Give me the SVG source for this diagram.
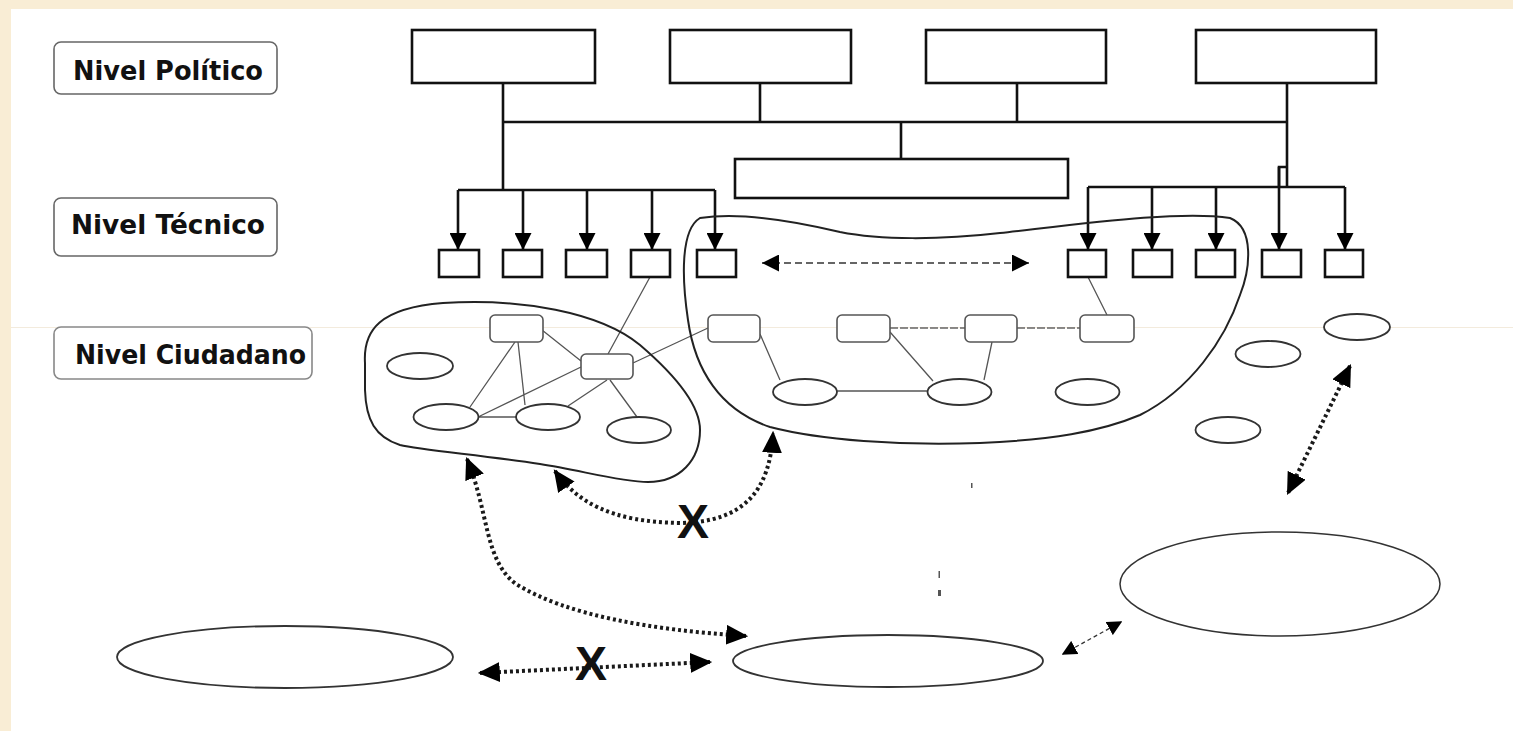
<svg xmlns="http://www.w3.org/2000/svg" width="1513" height="731" viewBox="0 0 1513 731">
<defs>
<style>
.lbl{fill:#fff;stroke:#666;stroke-width:1.6}
.lbltxt{font-family:"DejaVu Sans","Liberation Sans",sans-serif;font-weight:bold;font-size:26px;fill:#111}
.box{fill:#fff;stroke:#111;stroke-width:2.6}
.tree{fill:none;stroke:#111;stroke-width:2.6}
.cn{fill:#fff;stroke:#555;stroke-width:1.6}
.el{fill:#fff;stroke:#333;stroke-width:1.8}
.thin{fill:none;stroke:#555;stroke-width:1.3}
.thind{fill:none;stroke:#666;stroke-width:1.3;stroke-dasharray:8 2}
.blob{fill:none;stroke:#222;stroke-width:2}
.dot{fill:none;stroke:#1a1a1a;stroke-width:4;stroke-dasharray:3 3}
.xt{font-family:"Liberation Sans",Arial,sans-serif;font-weight:bold;font-size:48px;fill:#111}
</style>
<marker id="ah" viewBox="0 0 10 10" refX="10" refY="5" markerWidth="17" markerHeight="17" markerUnits="userSpaceOnUse" orient="auto-start-reverse"><path d="M0,0 L10,5 L0,10 z" fill="#000"/></marker>
<marker id="ahb" viewBox="0 0 10 10" refX="9" refY="5" markerWidth="22" markerHeight="20" markerUnits="userSpaceOnUse" orient="auto-start-reverse" preserveAspectRatio="none"><path d="M0,0 L10,5 L0,10 z" fill="#000"/></marker>
<marker id="ahs" viewBox="0 0 10 10" refX="9" refY="5" markerWidth="15" markerHeight="15" markerUnits="userSpaceOnUse" orient="auto-start-reverse"><path d="M0,0 L10,5 L0,10 z" fill="#000"/></marker>
</defs>
<rect x="0" y="0" width="1513" height="731" fill="#F9EDD5"/>
<rect x="11" y="9" width="1502" height="722" fill="#fff"/>
<line x1="11" y1="327.5" x2="1513" y2="327.5" stroke="#F3EBDD" stroke-width="1"/>

<g id="label-politico"><rect class="lbl" x="54" y="42" width="223" height="52" rx="7"/><text class="lbltxt" x="73" y="80" textLength="190" lengthAdjust="spacingAndGlyphs">Nivel Político</text></g>
<g id="label-tecnico"><rect class="lbl" x="54" y="198" width="223" height="58" rx="7"/><text class="lbltxt" x="71" y="234" textLength="194" lengthAdjust="spacingAndGlyphs">Nivel Técnico</text></g>
<g id="label-ciudadano"><rect class="lbl" x="54" y="327" width="258" height="52" rx="7" style="stroke:#888"/><text class="lbltxt" x="75" y="364" textLength="231" lengthAdjust="spacingAndGlyphs">Nivel Ciudadano</text></g>

<g id="connectors">
<path class="tree" d="M503,83 V190 M760,83 V122 M1017,83 V122 M1287,83 V187 M503,122 H1287 M901,122 V159"/>
<path class="tree" d="M458,190 H715 M1088,187 H1345 M1287,167 H1279 V187"/>
<line class="tree" x1="458" y1="190" x2="458" y2="250" marker-end="url(#ah)"/>
<line class="tree" x1="523" y1="190" x2="523" y2="250" marker-end="url(#ah)"/>
<line class="tree" x1="587" y1="190" x2="587" y2="250" marker-end="url(#ah)"/>
<line class="tree" x1="652" y1="190" x2="652" y2="250" marker-end="url(#ah)"/>
<line class="tree" x1="715" y1="190" x2="715" y2="250" marker-end="url(#ah)"/>
<line class="tree" x1="1088" y1="187" x2="1088" y2="250" marker-end="url(#ah)"/>
<line class="tree" x1="1152" y1="187" x2="1152" y2="250" marker-end="url(#ah)"/>
<line class="tree" x1="1216" y1="187" x2="1216" y2="250" marker-end="url(#ah)"/>
<line class="tree" x1="1279" y1="167" x2="1279" y2="250" marker-end="url(#ah)"/>
<line class="tree" x1="1345" y1="187" x2="1345" y2="250" marker-end="url(#ah)"/>
<line x1="762" y1="263" x2="1029" y2="263" stroke="#333" stroke-width="1.6" stroke-dasharray="7 4" marker-start="url(#ah)" marker-end="url(#ah)"/>
<path class="thin" d="M650,277 L608,354 M515,342 L470,407 M518,342 L525,405 M542,330 L581,361 M581,367 L478,417 M607,380 L568,406 M610,380 L637,417 M478,417 H517 M633,363 L708,328 M760,334 L780,380 M890,332 L933,381 M992,342 L984,380 M837,391 H927 M1088,277 L1107,315"/>
<path class="thind" d="M890,328 H965 M1017,328 H1080"/>
<path class="dot" d="M467,459 C489,512 484,560 516,584 C566,615 650,630 746,636" marker-start="url(#ahb)" marker-end="url(#ahb)"/>
<path class="dot" d="M555,471 C576,501 610,522 680,523 C745,522 770,490 773,433" marker-start="url(#ahb)" marker-end="url(#ahb)"/>
<path class="dot" d="M480,673 L710,662" marker-start="url(#ahb)" marker-end="url(#ahb)"/>
<path class="dot" d="M1350,366 L1288,493" marker-start="url(#ahb)" marker-end="url(#ahb)"/>
<path d="M1063,654 L1121,622" fill="none" stroke="#333" stroke-width="1.3" stroke-dasharray="4 3" marker-start="url(#ahs)" marker-end="url(#ahs)"/>
<text class="xt" x="693" y="538" text-anchor="middle">X</text>
<text class="xt" x="591" y="680" text-anchor="middle">X</text>
</g>

<g id="political-1"><rect class="box" x="412" y="30" width="183" height="53"/></g>
<g id="political-2"><rect class="box" x="670" y="30" width="181" height="53"/></g>
<g id="political-3"><rect class="box" x="926" y="30" width="180" height="53"/></g>
<g id="political-4"><rect class="box" x="1196" y="30" width="180" height="53"/></g>
<g id="political-center"><rect class="box" x="735" y="159" width="333" height="39"/></g>

<g id="tech-l1"><rect class="box" x="439" y="250" width="40" height="27"/></g>
<g id="tech-l2"><rect class="box" x="503" y="250" width="39" height="27"/></g>
<g id="tech-l3"><rect class="box" x="566" y="250" width="41" height="27"/></g>
<g id="tech-l4"><rect class="box" x="631" y="250" width="39" height="27"/></g>
<g id="tech-l5"><rect class="box" x="697" y="250" width="39" height="27"/></g>
<g id="tech-r1"><rect class="box" x="1068" y="250" width="38" height="27"/></g>
<g id="tech-r2"><rect class="box" x="1133" y="250" width="39" height="27"/></g>
<g id="tech-r3"><rect class="box" x="1196" y="250" width="39" height="27"/></g>
<g id="tech-r4"><rect class="box" x="1262" y="250" width="39" height="27"/></g>
<g id="tech-r5"><rect class="box" x="1325" y="250" width="38" height="27"/></g>

<g id="blob-left"><path class="blob" d="M365,363 C363,330 380,308 443,303 C520,298 600,312 640,345 C675,375 700,405 700,430 C700,460 680,482 648,482 C620,482 580,470 540,464 C480,455 420,450 400,445 C375,437 366,420 365,390 Z"/></g>
<g id="blob-right"><path class="blob" d="M700,218 C740,212 790,220 840,232 C880,240 940,240 1000,233 C1080,224 1180,210 1230,218 C1255,228 1250,270 1240,295 C1225,340 1190,390 1140,415 C1100,432 1050,440 980,443 C900,446 820,440 770,427 C720,410 695,370 688,320 C682,280 680,230 700,218 Z"/></g>

<g id="cit-r1"><rect class="cn" x="490" y="315" width="53" height="27" rx="5"/></g>
<g id="cit-r2"><rect class="cn" x="581" y="354" width="52" height="25" rx="5"/></g>
<g id="cit-r3"><rect class="cn" x="708" y="315" width="52" height="27" rx="5"/></g>
<g id="cit-r4"><rect class="cn" x="837" y="315" width="53" height="27" rx="5"/></g>
<g id="cit-r5"><rect class="cn" x="965" y="315" width="52" height="27" rx="5"/></g>
<g id="cit-r6"><rect class="cn" x="1080" y="315" width="54" height="27" rx="5"/></g>
<g id="cit-e1"><ellipse class="el" cx="420" cy="366" rx="33" ry="13"/></g>
<g id="cit-e2"><ellipse class="el" cx="446" cy="417" rx="32.5" ry="13"/></g>
<g id="cit-e3"><ellipse class="el" cx="548" cy="417" rx="32" ry="13"/></g>
<g id="cit-e4"><ellipse class="el" cx="639" cy="430" rx="32" ry="13"/></g>
<g id="cit-e5"><ellipse class="el" cx="805" cy="392" rx="32" ry="13"/></g>
<g id="cit-e6"><ellipse class="el" cx="959.5" cy="392" rx="32" ry="13"/></g>
<g id="cit-e7"><ellipse class="el" cx="1087.5" cy="392" rx="32" ry="13"/></g>
<g id="cit-e8"><ellipse class="el" cx="1268" cy="354" rx="32.5" ry="13"/></g>
<g id="cit-e9"><ellipse class="el" cx="1357" cy="327" rx="33" ry="13"/></g>
<g id="cit-e10"><ellipse class="el" cx="1228" cy="430" rx="32.5" ry="13"/></g>

<g id="group-bottom-left"><ellipse class="el" cx="285" cy="657" rx="168" ry="31"/></g>
<g id="group-bottom-center"><ellipse class="el" cx="888" cy="661" rx="155" ry="26"/></g>
<g id="group-bottom-right"><ellipse class="el" cx="1280" cy="584" rx="160" ry="52" style="stroke-width:1.5"/></g>

<g id="marks" fill="#555">
<rect x="971" y="483" width="1.5" height="5"/>
<rect x="938.5" y="571" width="1.5" height="7"/>
<rect x="938" y="590" width="3" height="6"/>
</g>
</svg>
